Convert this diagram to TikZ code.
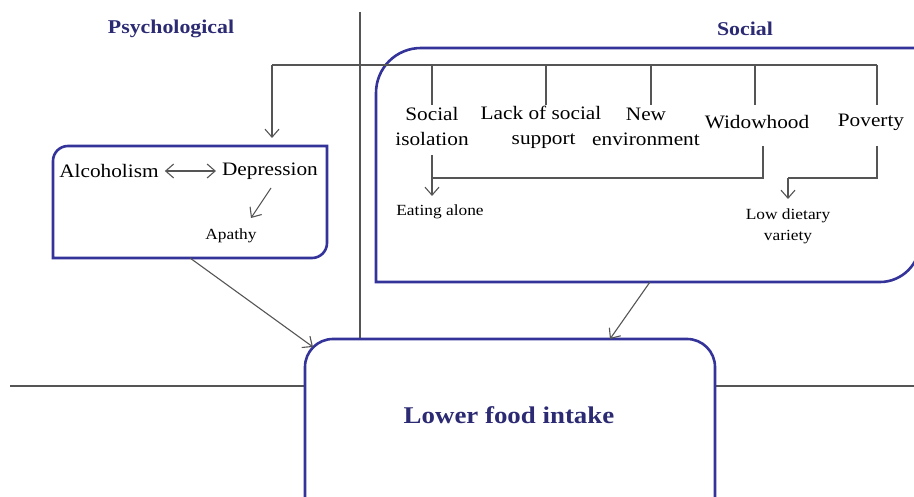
\documentclass[tikz,border=0pt]{standalone}
\usepackage{fontspec}
\setmainfont[FakeStretch=1.12]{Liberation Serif}
\usetikzlibrary{arrows.meta}
\definecolor{boxblue}{HTML}{33339A}
\definecolor{titleblue}{HTML}{2B2A72}
\definecolor{linegray}{HTML}{555555}
\tikzset{
  boxline/.style={draw=boxblue, line width=2.6pt},
  conn/.style={draw=linegray, line width=1.1pt},
  tip/.tip={Straight Barb[length=8pt,width=14pt]},
  arr/.style={conn, -tip},
  divider/.style={draw=linegray, line width=1.3pt},
  lbl/.style={inner sep=0pt, align=center, font=\fontsize{19}{25}\selectfont},
  small/.style={inner sep=0pt, align=center, font=\fontsize{15.5}{21}\selectfont},
  ttl/.style={inner sep=0pt, text=titleblue, font=\fontsize{19.5}{22}\selectfont\bfseries},
}
\begin{document}
\begin{tikzpicture}[x=1pt,y=-1pt]
\useasboundingbox (0,0) rectangle (914,497);
\clip (0,0) rectangle (914,497);
% dividers
\draw[divider] (360,12) -- (360,340);
\draw[divider] (10,386) -- (914,386);
% titles
\node[ttl] (tpsy) at (171,29) {Psychological};
\node[ttl] (tsoc) at (745,29) {Social};
% psychological box
\draw[boxline] (327,146) -- (68,146) .. controls (59.7,146) and (53,152.7) .. (53,161) -- (53,258) -- (312,258) .. controls (320.3,258) and (327,251.3) .. (327,243) -- cycle;
\coordinate (psyTop) at (272,146);
\coordinate (psyBot) at (190,258);
% social box
\draw[boxline] (930,48) -- (421,48) .. controls (396,48) and (376,68) .. (376,93) -- (376,282) -- (880,282) .. controls (902,282) and (920,264) .. (920,242) -- (920,180);
\coordinate (socBot) at (650,282);
% lower food intake
\draw[boxline, fill=white, rounded corners=28pt] (305,339) rectangle (715,530);
\node[inner sep=0pt, text=titleblue, font=\fontsize{24}{28}\selectfont\bfseries] (lfi) at (509,415) {Lower food intake};
\coordinate (lfiL) at (313,347);
\coordinate (lfiR) at (610,339);
% psych nodes
\node[lbl] (alc) at (109,171) {Alcoholism};
\node[lbl] (dep) at (270,171) {Depression};
\node[small] (apa) at (231,236) {Apathy};
\draw[conn, tip-tip] ([xshift=6pt]alc.east) -- ([xshift=-6pt]dep.west);
\draw[arr] (271,188) -- (251,218);
% social factors
\node[lbl] (iso) at (432,127) {Social\\isolation};
\node[lbl] (lack) at (541,127) {Lack of social\\\ support};
\node[lbl] (newe) at (646,127) {New\\environment};
\node[lbl] (wid) at (757,122) {Widowhood};
\node[lbl] (pov) at (871,122) {Poverty};
\node[small] (eat) at (440,212) {Eating alone};
\node[small] (low) at (788,226) {Low dietary\\variety};
% top bus
\coordinate (busL) at (272,65);
\coordinate (busR) at (877,65);
\draw[conn] (busR) -- (busL);
\draw[arr] (busL) -- ([yshift=8pt]psyTop);
\draw[conn] (432,65) -- (432,105);
\draw[conn] (546,65) -- (546,105);
\draw[conn] (651,65) -- (651,105);
\draw[conn] (755,65) -- (755,105);
\draw[conn] (877,65) -- (877,105);
% lower connectors
\draw[arr] (432,155) -- (432,196);
\draw[conn] (432,178) -- (763,178) -- (763,146);
\draw[conn] (877,146) -- (877,178) -- (788,178);
\draw[arr] (788,178) -- (788,199);
% to lower food intake
\draw[arr] (psyBot) -- (lfiL);
\draw[arr] (socBot) -- (lfiR);
\end{tikzpicture}
\end{document}
